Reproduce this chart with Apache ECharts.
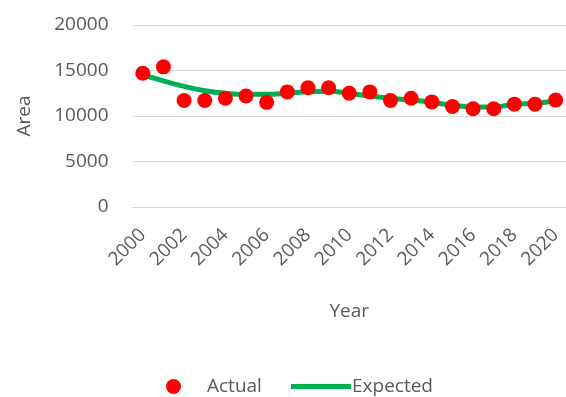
<!DOCTYPE html>
<html>
<head>
<meta charset="utf-8">
<script src="https://cdn.jsdelivr.net/npm/echarts@6/dist/echarts.min.js"></script>
<style>
  html, body { margin: 0; padding: 0; background: #fff; }
  #chart { width: 566px; height: 397px; }
</style>
</head>
<body>
<div id="chart"></div>
<script>
// Years on the category axis
const years = ['2000','2001','2002','2003','2004','2005','2006','2007','2008','2009','2010',
               '2011','2012','2013','2014','2015','2016','2017','2018','2019','2020'];
// Observed area per year
const actual = [14700, 15400, 11700, 11700, 11950, 12200, 11500, 12650, 13100, 13100, 12500,
                12650, 11700, 11950, 11550, 11050, 10800, 10800, 11300, 11300, 11750];
// Fitted trend
const expected = [14550, 13850, 13250, 12780, 12500, 12380, 12380, 12500, 12670, 12720, 12500,
                  12200, 11950, 11750, 11500, 11200, 11000, 11000, 11300, 11400, 11650];
// Value axis ticks
const yTicks = { min: 0, max: 20000, step: 5000 };

const textColor = '#595959';
const font = 'Open Sans';
const red = '#ff0000';
const green = '#00b050';

const chart = echarts.init(document.getElementById('chart'), null, { renderer: 'canvas' });
chart.setOption({
  animation: false,
  textStyle: { fontFamily: font, color: textColor },
  grid: { left: 132.5, top: 25, bottom: 190, right: -7.5, containLabel: false },
  legend: [
    {
      left: 161,
      top: 372,
      itemWidth: 15,
      itemHeight: 15,
      textStyle: { fontFamily: font, fontSize: 19, color: textColor, padding: [0, 0, 0, 21] },
      data: [{ name: 'Actual', icon: 'circle', itemStyle: { color: red, opacity: 1 } }]
    },
    {
      left: 286,
      top: 372,
      itemWidth: 60,
      itemHeight: 5,
      textStyle: { fontFamily: font, fontSize: 19, color: textColor, padding: [0, 0, 0, -4] },
      data: [{ name: 'Expected', icon: 'rect', itemStyle: { color: green } }]
    }
  ],
  xAxis: {
    type: 'category',
    data: years,
    boundaryGap: true,
    name: 'Year',
    nameLocation: 'middle',
    nameGap: 95,
    nameTextStyle: { fontFamily: font, fontSize: 19, color: textColor },
    axisLine: { show: true, lineStyle: { color: '#d9d9d9', width: 1 } },
    axisTick: { show: false },
    axisLabel: {
      interval: 1,
      rotate: 45,
      margin: 25,
      fontFamily: font,
      fontSize: 19,
      color: textColor
    },
    splitLine: { show: false }
  },
  yAxis: {
    type: 'value',
    min: yTicks.min,
    max: yTicks.max,
    interval: yTicks.step,
    name: 'Area',
    nameLocation: 'middle',
    nameGap: 98,
    nameTextStyle: { fontFamily: font, fontSize: 19, color: textColor },
    axisLine: { show: false },
    axisTick: { show: false },
    axisLabel: {
      margin: 24,
      fontFamily: font,
      fontSize: 19,
      color: textColor,
      formatter: v => String(v)
    },
    splitLine: { lineStyle: { color: '#d9d9d9', width: 1 } }
  },
  series: [
    {
      name: 'Actual',
      type: 'scatter',
      data: actual,
      symbol: 'circle',
      symbolSize: 15,
      itemStyle: { color: red, opacity: 1 },
      z: 3
    },
    {
      name: 'Expected',
      type: 'line',
      data: expected,
      smooth: true,
      showSymbol: false,
      symbol: 'none',
      lineStyle: { color: green, width: 5 },
      itemStyle: { color: green },
      z: 2
    }
  ]
});
</script>
</body>
</html>
